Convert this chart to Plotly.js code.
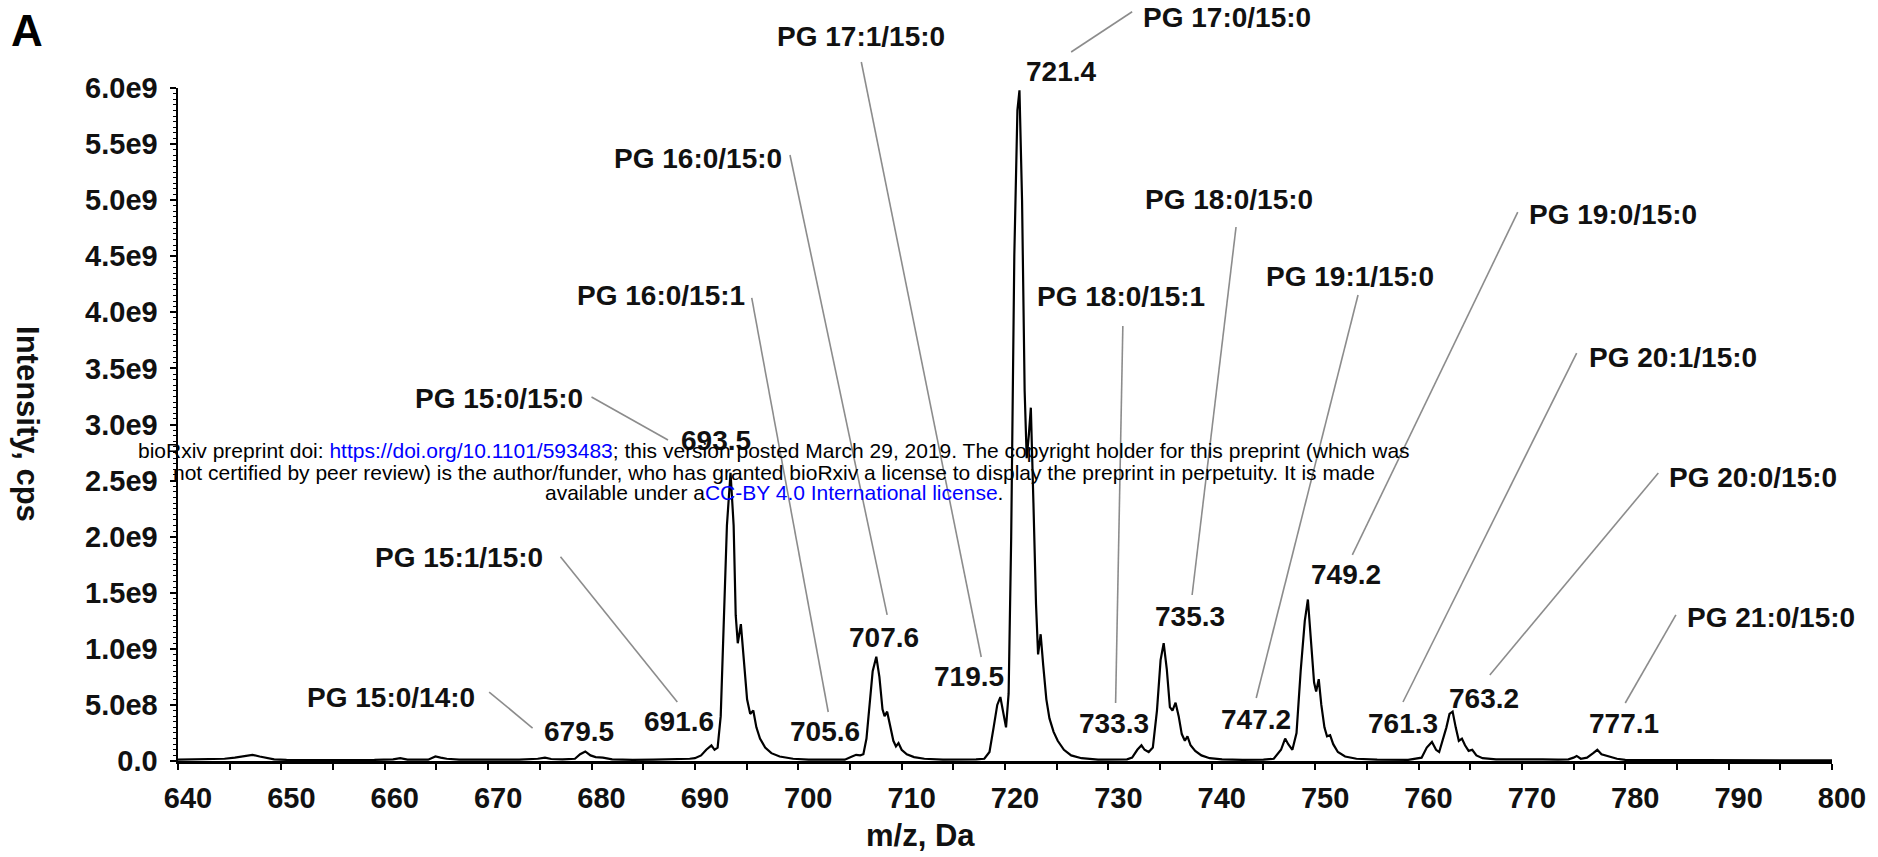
<!DOCTYPE html>
<html>
<head>
<meta charset="utf-8">
<script src="https://cdn.plot.ly/plotly-3.0.1.min.js"></script>
<style>
html,body{margin:0;padding:0;background:#ffffff;}
#chart{width:1878px;height:857px;}
</style>
</head>
<body>
<div id="chart"></div>
<script>
// ---------------- DATA ----------------
// m/z axis positions of the spectrum trace (Da)
const mz = [
640.0,641.5,643.0,644.5,645.5,646.4,647.2,647.9,648.5,649.3,650.5,653.0,656.0,659.0,660.8,661.5,662.2,664.2,664.9,665.4,
666.0,667.2,670.0,673.0,674.8,675.5,676.1,677.2,678.4,678.9,679.4,679.9,680.4,681.1,682.0,684.0,686.0,688.0,689.5,690.0,
690.6,691.1,691.6,691.9,692.2,692.5,692.8,693.1,693.45,693.75,693.95,694.15,694.45,694.75,695.05,695.35,695.65,695.95,696.3,696.8,
697.4,698.2,699.5,701.0,703.0,704.5,705.2,705.6,706.0,706.3,706.6,706.9,707.2,707.55,707.85,708.15,708.35,708.6,708.9,709.2,
709.45,709.7,710.0,710.5,711.2,712.2,714.0,716.0,717.2,718.0,718.5,718.9,719.25,719.55,719.85,720.1,720.35,720.6,720.9,721.2,
721.4,721.65,721.9,722.1,722.3,722.5,722.75,723.0,723.2,723.45,723.7,724.0,724.3,724.7,725.1,725.7,726.4,727.4,729.0,731.0,
731.8,732.3,732.8,733.2,733.5,733.9,734.3,734.7,735.05,735.35,735.65,735.95,736.2,736.5,736.8,737.1,737.4,737.65,737.95,738.4,
739.0,739.8,741.0,743.0,745.0,746.0,746.7,747.1,747.4,747.8,748.2,748.6,749.0,749.3,749.6,749.9,750.1,750.35,750.6,750.9,
751.15,751.45,751.75,752.2,752.9,754.0,756.0,759.0,760.3,760.8,761.3,761.7,762.0,762.4,762.7,763.0,763.3,763.6,763.9,764.2,
764.5,764.85,765.2,765.6,766.2,767.5,769.0,770.5,772.0,773.5,774.5,775.0,775.3,775.7,776.3,776.9,777.3,777.7,778.1,778.6,
779.2,780.0,783.0,787.0,791.0,795.0,800.0
];
// Intensity (cps) at each m/z point
const intensity = [
0.012e9,0.015e9,0.012e9,0.02e9,0.03e9,0.045e9,0.055e9,0.04e9,0.03e9,0.015e9,0.01e9,0.012e9,0.008e9,0.01e9,0.015e9,0.025e9,0.012e9,0.012e9,0.04e9,0.03e9,
0.02e9,0.012e9,0.01e9,0.012e9,0.02e9,0.03e9,0.018e9,0.015e9,0.02e9,0.06e9,0.085e9,0.05e9,0.035e9,0.03e9,0.015e9,0.01e9,0.012e9,0.015e9,0.02e9,0.025e9,
0.05e9,0.1e9,0.14e9,0.1e9,0.12e9,0.4e9,1.2e9,2.1e9,2.57e9,2.1e9,1.3e9,1.05e9,1.22e9,0.9e9,0.55e9,0.42e9,0.45e9,0.3e9,0.2e9,0.12e9,
0.07e9,0.04e9,0.02e9,0.012e9,0.01e9,0.012e9,0.04e9,0.055e9,0.05e9,0.06e9,0.2e9,0.5e9,0.8e9,0.93e9,0.75e9,0.46e9,0.4e9,0.44e9,0.32e9,0.18e9,
0.13e9,0.16e9,0.1e9,0.06e9,0.035e9,0.02e9,0.012e9,0.012e9,0.015e9,0.02e9,0.08e9,0.3e9,0.5e9,0.57e9,0.42e9,0.3e9,0.6e9,2.0e9,4.5e9,5.8e9,
5.98e9,5.0e9,3.3e9,2.7e9,2.9e9,3.15e9,2.3e9,1.4e9,0.95e9,1.13e9,0.85e9,0.55e9,0.38e9,0.26e9,0.18e9,0.1e9,0.05e9,0.025e9,0.012e9,0.012e9,
0.015e9,0.03e9,0.1e9,0.14e9,0.1e9,0.08e9,0.12e9,0.45e9,0.9e9,1.05e9,0.82e9,0.48e9,0.45e9,0.52e9,0.4e9,0.24e9,0.18e9,0.22e9,0.14e9,0.09e9,
0.05e9,0.025e9,0.015e9,0.01e9,0.012e9,0.02e9,0.1e9,0.2e9,0.15e9,0.1e9,0.25e9,0.8e9,1.25e9,1.44e9,1.1e9,0.7e9,0.62e9,0.73e9,0.5e9,0.3e9,
0.22e9,0.23e9,0.15e9,0.08e9,0.04e9,0.02e9,0.012e9,0.01e9,0.03e9,0.12e9,0.17e9,0.1e9,0.08e9,0.2e9,0.3e9,0.42e9,0.44e9,0.3e9,0.18e9,0.2e9,
0.14e9,0.09e9,0.1e9,0.05e9,0.025e9,0.015e9,0.015e9,0.02e9,0.015e9,0.012e9,0.015e9,0.03e9,0.045e9,0.02e9,0.03e9,0.07e9,0.1e9,0.06e9,0.05e9,0.04e9,
0.02e9,0.01e9,0.008e9,0.008e9,0.006e9,0.006e9,0.005e9
];
// Peak m/z labels
const peakLabels = ['679.5','691.6','693.5','705.6','707.6','719.5','721.4','733.3','735.3','747.2','749.2','761.3','763.2','777.1'];
// Compound names
const compoundNames = ['PG 15:0/14:0','PG 15:1/15:0','PG 15:0/15:0','PG 16:0/15:1','PG 16:0/15:0','PG 17:1/15:0','PG 17:0/15:0',
                       'PG 18:0/15:1','PG 18:0/15:0','PG 19:1/15:0','PG 19:0/15:0','PG 20:1/15:0','PG 20:0/15:0','PG 21:0/15:0'];
// Tick labels
const xTickVals = [640,645,650,655,660,665,670,675,680,685,690,695,700,705,710,715,720,725,730,735,740,745,750,755,760,765,770,775,780,785,790,795,800];
const xTickText = ['640','','650','','660','','670','','680','','690','','700','','710','','720','','730','','740','','750','','760','','770','','780','','790','','800'];
const yTickVals = [0,0.5e9,1.0e9,1.5e9,2.0e9,2.5e9,3.0e9,3.5e9,4.0e9,4.5e9,5.0e9,5.5e9,6.0e9];
const yTickText = ['0.0','5.0e8','1.0e9','1.5e9','2.0e9','2.5e9','3.0e9','3.5e9','4.0e9','4.5e9','5.0e9','5.5e9','6.0e9'];

// ---------------- LAYOUT (label placement in data units) ----------------
const X_RANGE = [640, 800];
const Y_RANGE = [0, 6.0e9];
const peakLabelPos = [
  [678.8,0.26e9],[688.5,0.35e9],[692.0,2.86e9],[702.6,0.26e9],[708.3,1.10e9],[716.5,0.75e9],[725.4,6.15e9],
  [730.5,0.33e9],[737.9,1.29e9],[744.3,0.37e9],[753.0,1.66e9],[758.5,0.33e9],[766.3,0.56e9],[779.9,0.33e9]
];
const namePos = [
  [660.6,0.57e9],[667.2,1.81e9],[671.1,3.23e9],[686.7,4.15e9],[690.3,5.37e9],[706.1,6.455e9],[741.5,6.63e9],
  [731.2,4.145e9],[741.7,5.01e9],[753.4,4.32e9],[778.8,4.87e9],[784.6,3.60e9],[792.4,2.53e9],[794.1,1.275e9]
];
// leader lines [x0, y0, x1, y1] in data units
const leaders = [
  [670.1,0.615e9,674.3,0.294e9],
  [677.0,1.82e9,688.3,0.526e9],
  [680.0,3.245e9,687.4,2.862e9],
  [695.5,4.128e9,702.9,0.437e9],
  [699.2,5.403e9,708.6,1.302e9],
  [706.1,6.232e9,717.7,0.927e9],
  [726.4,6.321e9,732.3,6.68e9],
  [731.4,3.878e9,730.7,0.517e9],
  [742.35,4.761e9,738.1,1.48e9],
  [754.15,4.154e9,744.3,0.562e9],
  [769.6,4.894e9,753.6,1.837e9],
  [775.3,3.637e9,758.5,0.526e9],
  [783.2,2.568e9,766.9,0.767e9],
  [784.9,1.302e9,780.0,0.517e9]
];

const FONT = 'Liberation Sans, Arial, Helvetica, sans-serif';
// map data units onto the plot area's paper fraction (keeps labels visible above the axis range)
const px = v => (v - X_RANGE[0]) / (X_RANGE[1] - X_RANGE[0]);
const py = v => (v - Y_RANGE[0]) / (Y_RANGE[1] - Y_RANGE[0]);

const shapes = leaders.map(l => ({
  type:'line', xref:'paper', yref:'paper',
  x0:px(l[0]), y0:py(l[1]), x1:px(l[2]), y1:py(l[3]),
  line:{color:'#8c8c8c', width:1.6}, layer:'above'
}));

const labelFont = {family:FONT, size:28, color:'#111', weight:'bold'};
const annotations = [];
peakLabels.forEach((t,i) => annotations.push({
  xref:'paper', yref:'paper', x:px(peakLabelPos[i][0]), y:py(peakLabelPos[i][1]), text:t, showarrow:false,
  xanchor:'center', yanchor:'middle', font:labelFont
}));
compoundNames.forEach((t,i) => annotations.push({
  xref:'paper', yref:'paper', x:px(namePos[i][0]), y:py(namePos[i][1]), text:t, showarrow:false,
  xanchor:'center', yanchor:'middle', font:labelFont, borderpad:0
}));
// axis titles and panel letter
annotations.push({xref:'paper', yref:'paper', x:-0.0907, y:0.5007, text:'Intensity, cps', textangle:90, showarrow:false,
  xanchor:'center', yanchor:'middle', font:{family:FONT, size:31, color:'#111', weight:'bold'}});
annotations.push({xref:'paper', yref:'paper', x:0.4492, y:-0.11, text:'m/z, Da', showarrow:false,
  xanchor:'center', yanchor:'middle', font:{family:FONT, size:31, color:'#111', weight:'bold'}});
annotations.push({xref:'paper', yref:'paper', x:-0.0913, y:1.0847, text:'A', showarrow:false,
  xanchor:'center', yanchor:'middle', font:{family:FONT, size:44, color:'#000', weight:'bold'}});
// preprint overlay text
const wmFont = {family:FONT, size:21, color:'#000'};
const wmLines = [
  "bioRxiv preprint doi: <span style='color:#0000ff'>https://doi.org/10.1101/593483</span>; this version posted March 29, 2019. The copyright holder for this preprint (which was",
  "not certified by peer review) is the author/funder, who has granted bioRxiv a license to display the preprint in perpetuity. It is made",
  "available under a<span style='color:#0000ff'>CC-BY 4.0 International license</span>."
];
const wmY = [0.4621, 0.4294, 0.3997];
wmLines.forEach((t,i) => annotations.push({xref:'paper', yref:'paper', x:0.3604, y:wmY[i], text:t, showarrow:false,
  xanchor:'center', yanchor:'middle', font:wmFont}));

const trace = {
  x: mz, y: intensity, type:'scatter', mode:'lines',
  line:{color:'#000', width:2.2}, hoverinfo:'skip'
};

const layout = {
  width:1878, height:857,
  margin:{l:178, r:46, t:88, b:96, pad:0},
  paper_bgcolor:'#ffffff', plot_bgcolor:'#ffffff',
  showlegend:false,
  xaxis:{
    range:X_RANGE, tickmode:'array', tickvals:xTickVals, ticktext:xTickText,
    ticks:'outside', ticklen:6, tickwidth:2, tickcolor:'#000', ticklabelstandoff:4, ticklabelshift:10,
    showline:true, linecolor:'#000', linewidth:2.5, showgrid:false, zeroline:false,
    tickfont:{family:FONT, size:29, color:'#111', weight:'bold'}, fixedrange:true
  },
  yaxis:{
    range:Y_RANGE, tickmode:'array', tickvals:yTickVals, ticktext:yTickText,
    ticks:'outside', ticklen:6, tickwidth:2, tickcolor:'#000', ticklabelstandoff:6,
    showline:true, linecolor:'#000', linewidth:2.5, showgrid:false, zeroline:false,
    minor:{tickmode:'linear', tick0:0, dtick:0.05e9, ticks:'outside', ticklen:3, tickwidth:1, tickcolor:'#000', showgrid:false},
    tickfont:{family:FONT, size:29, color:'#111', weight:'bold'}, fixedrange:true
  },
  shapes:shapes,
  annotations:annotations
};

Plotly.newPlot('chart', [trace], layout, {displayModeBar:false, staticPlot:true});
</script>
</body>
</html>
